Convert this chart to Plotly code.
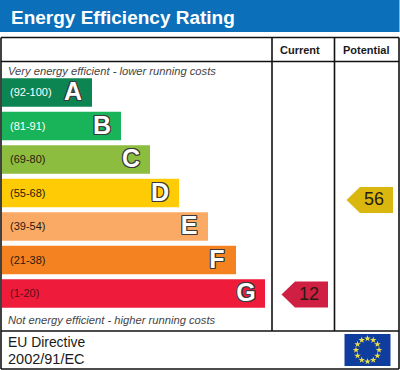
import math
import plotly.graph_objects as go

TITLE = "Energy Efficiency Rating"
HEADERS = ["Current", "Potential"]
BANDS = ["(92-100)", "(81-91)", "(69-80)", "(55-68)", "(39-54)", "(21-38)", "(1-20)"]
LETTERS = ["A", "B", "C", "D", "E", "F", "G"]
BAR_LENGTHS = [90, 119, 148, 177, 206, 234, 263]
BAR_COLORS = ["#0d8552", "#19b459", "#8dbd3e", "#fecb05", "#fbaa65", "#f58220", "#ee1c3a"]
BAND_TEXT_COLORS = ["white", "white", "#2a1a10", "#2a1a10", "#2a1a10", "#2a1a10", "#5a1018"]
CURRENT = 12
POTENTIAL = 56
TOP_NOTE = "Very energy efficient - lower running costs"
BOTTOM_NOTE = "Not energy efficient - higher running costs"
FOOTER = ["EU Directive", "2002/91/EC"]

FONT = "Liberation Sans, Arial, sans-serif"
row_y = [92.5 + i * 33.5 for i in range(len(BANDS))]


def rating_y(v):
    return 294.5 - (v - 12) * 94.5 / 44


def arrow(cx0, value, color):
    y = rating_y(value)
    xs = [cx0, cx0 + 13.5, cx0 + 46.5, cx0 + 46.5, cx0 + 13.5, cx0]
    ys = [y, y - 13, y - 13, y + 13, y + 13, y]
    return go.Scatter(x=xs, y=ys, mode="lines", fill="toself", fillcolor=color,
                      line=dict(width=0), hoverinfo="skip")


fig = go.Figure()
fig.add_trace(go.Bar(x=BAR_LENGTHS, y=row_y, base=2, width=28.5, orientation="h",
                     marker=dict(color=BAR_COLORS, line=dict(width=0)), hoverinfo="skip"))
fig.add_trace(go.Scatter(x=[10] * 7, y=[v + 1 for v in row_y], mode="text", text=BANDS,
                         textposition="middle right",
                         textfont=dict(family=FONT, size=11, color=BAND_TEXT_COLORS, weight=700 if False else 400),
                         hoverinfo="skip"))
outline = ",".join(f"{a}px {b}px 0 #3a3a3a" for a in (-1, 0, 1) for b in (-1, 0, 1) if a or b)
fig.add_trace(go.Scatter(x=[2 + v - 19 for v in BAR_LENGTHS], y=[v + 1.5 for v in row_y], mode="text", text=LETTERS,
                         textposition="middle center",
                         textfont=dict(family=FONT, size=25, color="white", weight=700, shadow=outline),
                         hoverinfo="skip"))
fig.add_trace(arrow(281.5, CURRENT, "#cf1f42"))
fig.add_trace(arrow(346.5, POTENTIAL, "#d9b70f"))
fig.add_trace(go.Scatter(x=[309, 374], y=[rating_y(CURRENT) + 0.5, rating_y(POTENTIAL) + 0.5], mode="text",
                         text=[str(CURRENT), str(POTENTIAL)], textposition="middle center",
                         textfont=dict(family=FONT, size=18, color="#2b1a10"), hoverinfo="skip"))

# EU flag stars
sx = [367.5 + 11.5 * math.sin(i * math.pi / 6) for i in range(12)]
sy = [350 - 11.5 * math.cos(i * math.pi / 6) for i in range(12)]
fig.add_trace(go.Scatter(x=sx, y=sy, mode="markers", hoverinfo="skip",
                         marker=dict(symbol="star", size=5, color="#e8e04a", line=dict(width=0))))

for x0, y0, x1, y1 in [(1, 37.5, 399, 37.5), (1, 61.5, 399, 61.5), (1, 331, 399, 331), (1, 369, 399, 369),
                       (1, 37.5, 1, 369), (399, 37.5, 399, 369), (272, 37.5, 272, 331), (334.5, 37.5, 334.5, 331)]:
    fig.add_shape(type="line", x0=x0, x1=x1, y0=y0, y1=y1, line=dict(color="#111111", width=1.6))
fig.add_shape(type="rect", x0=0, x1=399.5, y0=0, y1=32, fillcolor="#0b6fba", line=dict(width=0), layer="below")
fig.add_shape(type="rect", x0=344.5, x1=390.5, y0=334, y1=366, fillcolor="#0f3d9e", line=dict(width=0), layer="below")


def label(x, y, text, size, color="#1a1a1a", anchor="left", **font):
    fig.add_annotation(x=x, y=y, text=text, showarrow=False, xanchor=anchor, yanchor="middle",
                       font=dict(family=FONT, size=size, color=color, **font))


label(9, 17, TITLE, 19, "white", weight=700)
label(300, 49.5, HEADERS[0], 11, anchor="center", weight=700)
label(365.5, 49.5, HEADERS[1], 11, anchor="center", weight=700)
label(6, 70.5, TOP_NOTE, 11.2, "#444444", style="italic")
label(6, 320, BOTTOM_NOTE, 11.2, "#444444", style="italic")
label(5.5, 342, FOOTER[0], 13.9, "#1a1a1a")
label(5.5, 359, FOOTER[1], 14.5, "#1a1a1a")

fig.update_layout(width=400, height=370, margin=dict(l=0, r=0, t=0, b=0), showlegend=False,
                  paper_bgcolor="white", plot_bgcolor="white", barmode="overlay",
                  xaxis=dict(range=[0, 400], visible=False, fixedrange=True),
                  yaxis=dict(range=[370, 0], visible=False, fixedrange=True))
fig.write_html("out.html", config=dict(displayModeBar=False),
               post_script="document.body.style.margin='0';document.body.style.overflow='hidden';")
